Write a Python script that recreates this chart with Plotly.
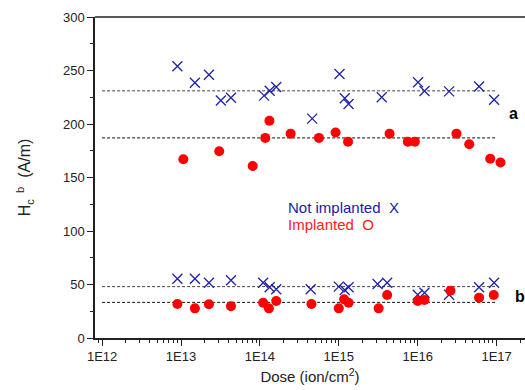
import plotly.graph_objects as go

# Group a (high field) data
a_x_dose = [9.0e12, 1.5e13, 2.26e13, 3.2e13, 4.3e13, 1.13e14, 1.33e14, 1.61e14,
            4.6e14, 1.02e15, 1.19e15, 1.33e15, 3.5e15, 1.01e16, 1.22e16, 2.5e16, 6.0e16, 9.3e16]
a_x_val = [254, 238.6, 246, 222, 224.6, 226.5, 231, 234.6,
           205, 246.7, 224, 218.7, 225, 239, 230.8, 230.5, 235, 222.7]

a_o_dose = [1.07e13, 3.05e13, 8.1e13, 1.17e14, 1.32e14, 2.45e14, 5.6e14, 9.1e14, 1.31e15,
            4.4e15, 7.5e15, 9.2e15, 3.1e16, 4.5e16, 8.3e16, 1.12e17]
a_o_val = [167, 174.5, 160.7, 187, 203, 191, 187, 192, 183.5,
           191, 183.5, 183.5, 191, 181, 167.6, 164]

# Group b (low field) data
b_x_dose = [9.0e12, 1.5e13, 2.26e13, 4.3e13, 1.1e14, 1.33e14, 1.61e14,
            4.4e14, 1.0e15, 1.19e15, 1.33e15, 3.1e15, 4.1e15, 1.0e16, 1.22e16, 2.5e16, 6.0e16, 9.3e16]
b_x_val = [55.4, 55.4, 51.7, 53.9, 51.7, 47.4, 45.5,
           45.5, 48, 44.9, 47.4, 50.5, 51.7, 40.5, 42.3, 40.5, 47.4, 51.7]

b_o_dose = [9.0e12, 1.5e13, 2.26e13, 4.3e13, 1.1e14, 1.3e14, 1.61e14,
            4.5e14, 1.0e15, 1.17e15, 1.33e15, 3.2e15, 4.1e15, 1.0e16, 1.22e16, 2.6e16, 6.0e16, 9.2e16]
b_o_val = [31.8, 27.7, 31.5, 29.6, 33, 27.7, 34.6,
           31.8, 27.7, 36.1, 33, 27.7, 40.2, 34.6, 35.5, 44.2, 37.7, 40.2]

# Mean (dashed) reference levels
mean_levels = [231, 187, 48, 33.3]
mean_span = [1e12, 1e17]

x_ticks = [1e12, 1e13, 1e14, 1e15, 1e16, 1e17]
x_tick_labels = ["1E12", "1E13", "1E14", "1E15", "1E16", "1E17"]
y_ticks = [0, 50, 100, 150, 200, 250, 300]

BLUE = "#2222AA"
RED = "#FF0000"

fig = go.Figure()

for i, lvl in enumerate(mean_levels):
    fig.add_trace(go.Scatter(
        x=mean_span, y=[lvl, lvl], mode="lines",
        line=dict(color="#444444" if i % 2 == 0 else "#111111", width=1, dash="3px,2px"),
        showlegend=False, hoverinfo="skip"))

for xs, ys in [(a_x_dose, a_x_val), (b_x_dose, b_x_val)]:
    fig.add_trace(go.Scatter(
        x=xs, y=ys, mode="markers",
        marker=dict(symbol="x-thin-open", size=10, line=dict(color=BLUE, width=1.3), color=BLUE),
        showlegend=False))

for xs, ys in [(a_o_dose, a_o_val), (b_o_dose, b_o_val)]:
    fig.add_trace(go.Scatter(
        x=xs, y=ys, mode="markers",
        marker=dict(symbol="circle", size=10, color=RED, line=dict(width=0)),
        showlegend=False))

font = "Liberation Sans, Arial, sans-serif"

fig.update_layout(
    width=525, height=390,
    margin=dict(l=95, r=0, t=17, b=52),
    paper_bgcolor="white", plot_bgcolor="white",
    font=dict(family=font, size=13, color="#222222"),
    xaxis=dict(
        type="log", range=[11.91, 17.36],
        tickvals=x_ticks, ticktext=x_tick_labels,
        ticks="outside", ticklen=6, tickwidth=1, tickcolor="#222222",
        minor=dict(ticks="outside", ticklen=3, tickcolor="#222222",
                   tickvals=[m * 10 ** e for e in range(11, 18) for m in range(2, 10)]),
        showline=True, linecolor="#222222", linewidth=1.5,
        showgrid=False, zeroline=False,
        title=dict(text="Dose (ion/cm<sup>2</sup>)", font=dict(size=15), standoff=8),
        automargin=False,
    ),
    yaxis=dict(
        range=[0, 300], tickvals=y_ticks,
        ticks="outside", ticklen=6, tickwidth=1, tickcolor="#222222",
        minor=dict(ticks="outside", ticklen=3, tickcolor="#222222", dtick=25),
        showline=True, linecolor="#222222", linewidth=1.5,
        showgrid=False, zeroline=False,
        title=dict(text="H<sub>c</sub><sup>  b</sup>  (A/m)", font=dict(size=16), standoff=28),
        automargin=False,
    ),
    shapes=[dict(type="line", xref="paper", yref="paper", x0=0, x1=1, y0=1, y1=1,
                 line=dict(color="#222222", width=1.5))],
    annotations=[
        dict(x=17.21, y=210, xref="x", yref="y", text="<b>a</b>", showarrow=False,
             font=dict(size=16, color="#000000")),
        dict(x=17.3, y=38.6, xref="x", yref="y", text="<b>b</b>", showarrow=False,
             font=dict(size=16, color="#000000")),
        dict(x=14.33, y=122, xref="x", yref="y", text="Not implanted  X", showarrow=False,
             xanchor="left", font=dict(size=15, color="#1A1AA8")),
        dict(x=14.33, y=106.5, xref="x", yref="y", text="Implanted  O", showarrow=False,
             xanchor="left", font=dict(size=15, color="#FF2020")),
    ],
)

fig.write_html(
    "out.html",
    config={"displayModeBar": False},
    post_script="document.body.style.margin='0';document.body.style.overflow='hidden';",
)
